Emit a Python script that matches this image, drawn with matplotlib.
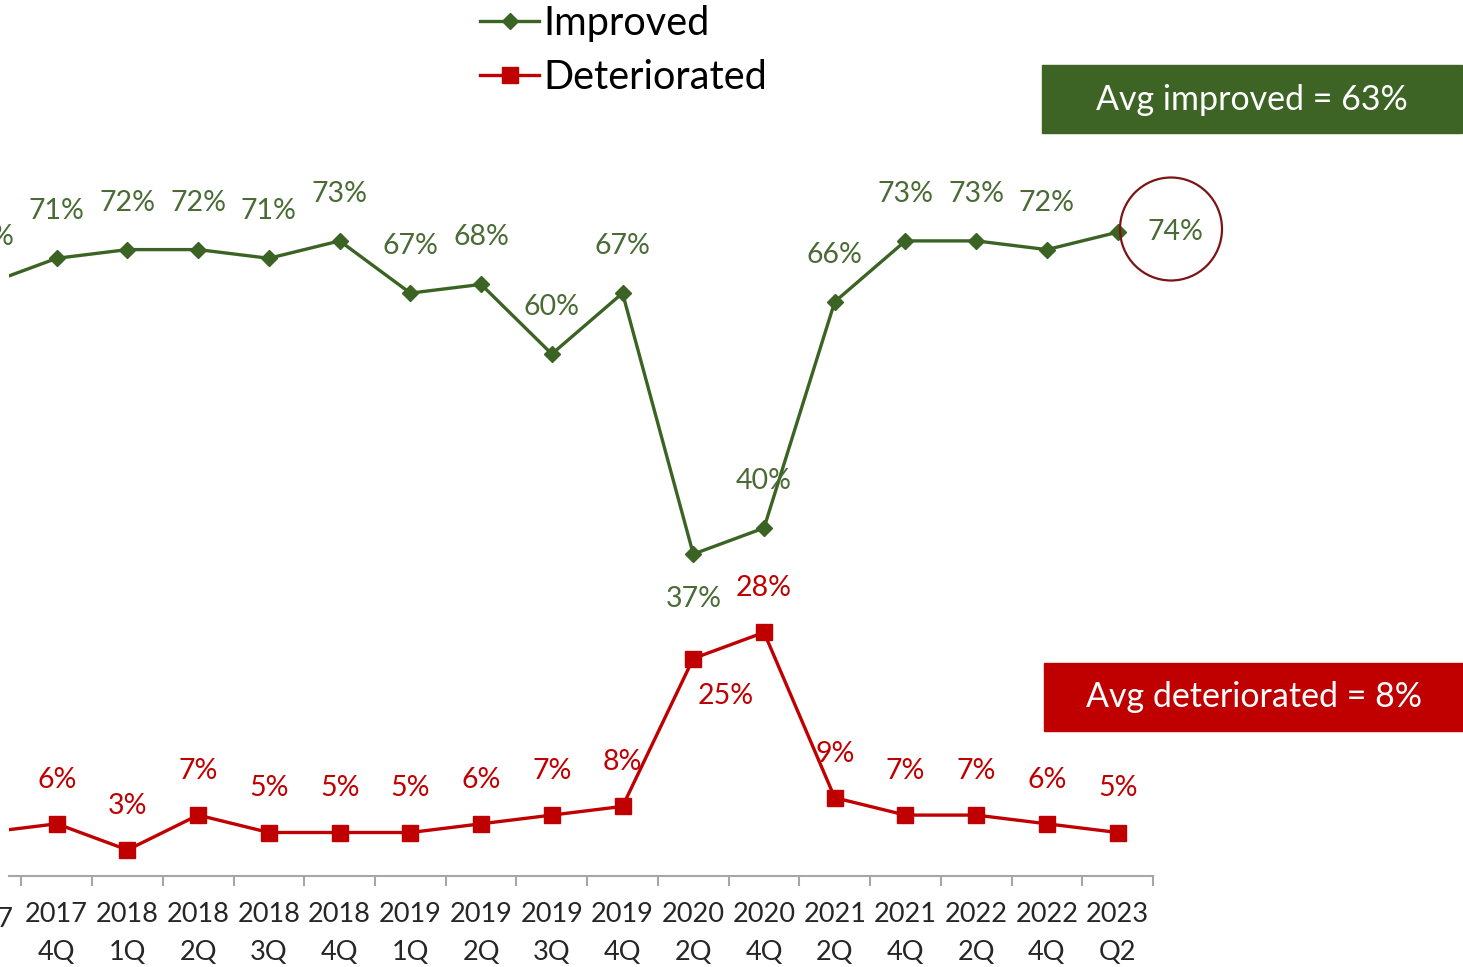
import matplotlib.pyplot as plt
from matplotlib.patches import Rectangle, Ellipse

plt.rcParams['font.family'] = ['Lato', 'DejaVu Sans']

# 数据
quarters = ['2017\n3Q', '2017\n4Q', '2018\n1Q', '2018\n2Q', '2018\n3Q', '2018\n4Q',
            '2019\n1Q', '2019\n2Q', '2019\n3Q', '2019\n4Q', '2020\n2Q', '2020\n4Q',
            '2021\n2Q', '2021\n4Q', '2022\n2Q', '2022\n4Q', '2023\nQ2']
improved = [68, 71, 72, 72, 71, 73, 67, 68, 60, 67, 37, 40, 66, 73, 73, 72, 74]
deteriorated = [5, 6, 3, 7, 5, 5, 5, 6, 7, 8, 25, 28, 9, 7, 7, 6, 5]
avg_improved = 63
avg_deteriorated = 8

green = '#3B6424'
green_txt = '#4A6B35'
red = '#C00000'

W, H = 1463, 967
fig = plt.figure(figsize=(W / 100, H / 100), dpi=100)
# 坐标系位置（像素换算）
ax = fig.add_axes([9 / W, (H - 876) / H, (1153 - 9) / W, 870 / H])

x = list(range(len(quarters)))
ax.plot(x, improved, color=green, lw=2.4, marker='D', ms=8, label='Improved')
ax.plot(x, deteriorated, color=red, lw=2.4, marker='s', ms=11, label='Deteriorated')

# 数据标签偏移（像素）
imp_off = [(0, 47)] * len(improved)
imp_off[10] = (0, -45)
imp_off[16] = (58, 0)
det_off = [(0, 44)] * len(deteriorated)
det_off[10] = (32, -38)

for i, v in enumerate(improved):
    ax.annotate(f'{v}%', (i, v), xytext=imp_off[i], textcoords='offset pixels',
                ha='center', va='center', fontsize=20.5, color=green_txt,
                annotation_clip=False)
# 第一个点的标签在原图中被截掉，不画
for i, v in enumerate(deteriorated):
    if i == 0:
        continue
    ax.annotate(f'{v}%', (i, v), xytext=det_off[i], textcoords='offset pixels',
                ha='center', va='center', fontsize=20.5, color=red,
                annotation_clip=False)

# 坐标轴样式
for s in ['top', 'right', 'left']:
    ax.spines[s].set_visible(False)
ax.spines['bottom'].set_color('#A6A6A6')
ax.spines['bottom'].set_linewidth(1.5)
ax.set_yticks([])
ax.set_xticks(x)
ax.set_xticklabels(quarters, fontsize=19.5, color='#262626', linespacing=1.65)
ax.tick_params(axis='x', which='major', length=0, pad=19)
ax.set_xticks([i + 0.5 for i in range(-1, len(quarters))], minor=True)
ax.tick_params(axis='x', which='minor', length=7, width=1.5, color='#A6A6A6')

# 左侧被截断
ax.set_xlim(0.325, len(quarters) - 0.5)
ax.set_ylim(0, 100)

# 被截断的第一个刻度标签
ax.annotate(quarters[0], (0, 0), xytext=(-4, -31), textcoords='offset pixels',
            ha='center', va='top', fontsize=19.5, color='#262626', linespacing=1.65,
            annotation_clip=False)

# 图例
ax.legend(loc='upper left', bbox_to_anchor=(480 / W, 1 - 5 / H), bbox_transform=fig.transFigure,
          frameon=False, fontsize=28.5, handlelength=1.5, handletextpad=0.1,
          borderpad=0, borderaxespad=0, labelspacing=0.42)

# 平均值方框
fig.patches.append(Rectangle((1042 / W, 1 - 133 / H), 420 / W, 68 / H,
                             transform=fig.transFigure, color='#3D6424'))
fig.text(1252 / W, 1 - 100 / H, f'Avg improved = {avg_improved}%', color='white',
         fontsize=24.5, ha='center', va='center')
fig.patches.append(Rectangle((1044 / W, 1 - 731 / H), 419 / W, 68 / H,
                             transform=fig.transFigure, color=red))
fig.text(1254 / W, 1 - 697 / H, f'Avg deteriorated = {avg_deteriorated}%', color='white',
         fontsize=24.5, ha='center', va='center')

# 圈出最新值
fig.patches.append(Ellipse((1171 / W, 1 - 229 / H), 102 / W, 103 / H,
                           transform=fig.transFigure, fill=False,
                           edgecolor='#7B1414', lw=1.6))

plt.savefig('out.png')
